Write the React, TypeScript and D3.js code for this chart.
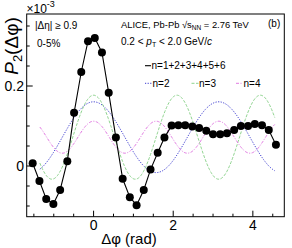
import React from "react";
import * as d3 from "d3";

// Δφ bin centres (rad) and P2(Δφ) values (×10^-3)
const dphi = [-1.53, -1.36, -1.19, -1.01, -0.84, -0.66, -0.49, -0.31, -0.14, 0.03, 0.21, 0.38,
  0.56, 0.73, 0.91, 1.08, 1.26, 1.43, 1.61, 1.78, 1.96, 2.13, 2.30, 2.48,
  2.65, 2.83, 3.00, 3.18, 3.35, 3.53, 3.70, 3.88, 4.05, 4.23, 4.40, 4.58];
const p2 = [0.007, -0.0375, -0.0825, -0.095, -0.06, 0.012, 0.133, 0.235, 0.312, 0.32, 0.284, 0.183,
  0.071, -0.032, -0.078, -0.098, -0.06, -0.009, 0.033, 0.071, 0.101, 0.102, 0.102, 0.099,
  0.095, 0.088, 0.0795, 0.0795, 0.082, 0.09, 0.1, 0.1, 0.105, 0.102, 0.09, 0.053];

// Fourier harmonic components: baseline + a_n cos(n Δφ)
const harmonicBaseline = 0.072;
const harmonicOrders = [2, 3, 4];
const harmonicAmps = [0.0885, 0.105, 0.04];
const harmonicLabels = ["n=2", "n=3", "n=4"];
const harmonicColors = ["#3b3bd0", "#8fd48f", "#e27ae2"];
const harmonicDash = ["1.2,1.4", "3,1.5", "3,1.5,1,1.5"];
const harmonicRange = [-1.35, 4.56];

const xMajorTicks = [0, 2, 4];
const xMinorTicks = [-1.5, -1, -0.5, 0.5, 1, 1.5, 2.5, 3, 3.5, 4.5];
const yMajorTicks = [0, 0.2];
const yMinorTicks = [-0.1, -0.05, 0.05, 0.1, 0.15, 0.25, 0.3, 0.35];

export default function App() {
  const W = 292, H = 248;
  const L = 26.7, R = 284.3, T = 14, B = 216.7;
  const x = d3.scaleLinear().domain([-1.68, 4.79]).range([L, R]);
  const y = d3.scaleLinear().domain([-0.12675, 0.38]).range([B, T]);
  const font = "'Liberation Sans', Arial, Helvetica, sans-serif";

  const pts = dphi.map((d, i) => [d, p2[i]] as [number, number]);
  const dataLine = d3.line<[number, number]>().x(d => x(d[0])).y(d => y(d[1]))(pts) || "";

  const samples = d3.range(harmonicRange[0], harmonicRange[1] + 1e-9, 0.02);
  const harmPaths = harmonicOrders.map((n, j) =>
    d3.line<number>().x(t => x(t)).y(t => y(harmonicBaseline + harmonicAmps[j] * Math.cos(n * t)))(samples) || ""
  );

  return (
    <svg width={W} height={H} style={{ position: "absolute", left: 0, top: 0, background: "#fff" }}
      fontFamily={font}>
      <defs>
        <clipPath id="plotclip"><rect x={L} y={T} width={R - L} height={B - T} /></clipPath>
      </defs>
      <g clipPath="url(#plotclip)">
        {harmPaths.map((p, j) => (
          <path key={j} d={p} fill="none" stroke={harmonicColors[j]} strokeWidth={1}
            strokeDasharray={harmonicDash[j]} />
        ))}
        <path d={dataLine} fill="none" stroke="#000" strokeWidth={1.1} />
        {pts.map((d, i) => (
          <circle key={i} cx={x(d[0])} cy={y(d[1])} r={4} fill="#000" />
        ))}
      </g>
      <rect x={L} y={T} width={R - L} height={B - T} fill="none" stroke="#000" strokeWidth={1} />
      {/* x ticks */}
      {xMajorTicks.map(t => (
        <g key={"xM" + t}>
          <line x1={x(t)} x2={x(t)} y1={B} y2={B - 6} stroke="#000" />
          <text x={x(t)} y={230} fontSize={14} textAnchor="middle">{t}</text>
        </g>
      ))}
      {xMinorTicks.map(t => (
        <line key={"xm" + t} x1={x(t)} x2={x(t)} y1={B} y2={B - 3} stroke="#000" />
      ))}
      {/* y ticks */}
      {yMajorTicks.map(t => (
        <g key={"yM" + t}>
          <line x1={L} x2={L + 6} y1={y(t)} y2={y(t)} stroke="#000" />
          <text x={24} y={y(t) + 5} fontSize={14} textAnchor="end">{t === 0 ? "0" : t.toFixed(1)}</text>
        </g>
      ))}
      {yMinorTicks.map(t => (
        <line key={"ym" + t} x1={L} x2={L + 3} y1={y(t)} y2={y(t)} stroke="#000" />
      ))}
      {/* axis titles */}
      <text x={129} y={244} fontSize={15} textAnchor="middle">Δφ (rad)</text>
      <text transform="translate(18,46) rotate(-90)" fontSize={19} textAnchor="middle">
        <tspan fontStyle="italic">P</tspan>
        <tspan fontSize={13} dy={4}>2</tspan>
        <tspan dy={-4}>(Δφ)</tspan>
      </text>
      <text x={26.5} y={12.5} fontSize={12}>×10<tspan fontSize={9} dy={-6}>-3</tspan></text>
      {/* annotations */}
      <text x={35} y={29} fontSize={10}>|Δη| ≥ 0.9</text>
      <text x={37} y={47} fontSize={10}>0-5%</text>
      <text x={121} y={28} fontSize={9.4}>
        ALICE, Pb-Pb √s<tspan fontSize={6.5} dy={2}>NN</tspan><tspan dy={-2}> = 2.76 TeV</tspan>
      </text>
      <text x={268} y={27} fontSize={10}>(b)</text>
      <text x={121} y={45} fontSize={10}>
        0.2 &lt; <tspan fontStyle="italic">p</tspan><tspan fontSize={7} dy={2}>T</tspan><tspan dy={-2}> &lt; 2.0 GeV/</tspan><tspan fontStyle="italic">c</tspan>
      </text>
      {/* legend */}
      <line x1={145} x2={151} y1={65.7} y2={65.7} stroke="#000" strokeWidth={1.1} />
      <text x={151.5} y={69} fontSize={10}>n=1+2+3+4+5+6</text>
      {harmonicLabels.map((lab, j) => {
        const lx = [145, 191.5, 236][j];
        return (
          <g key={lab}>
            <line x1={lx} x2={lx + 7} y1={83.3} y2={83.3} stroke={harmonicColors[j]}
              strokeDasharray={harmonicDash[j]} />
            <text x={lx + 7.5} y={87} fontSize={10}>{lab}</text>
          </g>
        );
      })}
    </svg>
  );
}
